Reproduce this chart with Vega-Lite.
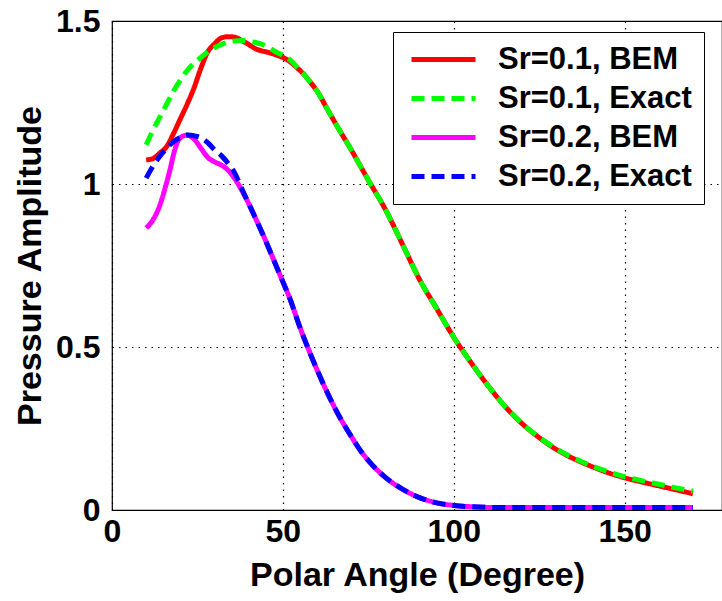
{
  "$schema": "https://vega.github.io/schema/vega-lite/v6.json",
  "autosize": {"type": "none"},
  "padding": {"left": 112, "top": 21, "right": 0, "bottom": 91},
  "width": 610,
  "height": 489,
  "background": "white",
  "config": {
    "view": {"stroke": "black", "strokeWidth": 1.2},
    "font": "Liberation Sans",
    "axis": {
      "labelFont": "Liberation Sans", "labelFontWeight": "bold", "labelFontSize": 32, "labelColor": "black",
      "titleFont": "Liberation Sans", "titleFontWeight": "bold", "titleFontSize": 34, "titleColor": "black",
      "domain": false, "ticks": false,
      "grid": true, "gridColor": "black", "gridDash": [1.5, 5], "gridWidth": 1.2, "gridOpacity": 1,
      "labelOverlap": false, "labelFlush": false
    },
    "legend": {
      "labelFont": "Liberation Sans", "labelFontWeight": "bold", "labelFontSize": 31, "labelColor": "black", "labelLimit": 400
    }
  },
  "datasets": {
    "curves": [
      {"series": "Sr=0.1, BEM", "angle": 10, "amp": 1.074},
      {"series": "Sr=0.1, BEM", "angle": 12, "amp": 1.078},
      {"series": "Sr=0.1, BEM", "angle": 14, "amp": 1.095},
      {"series": "Sr=0.1, BEM", "angle": 16, "amp": 1.115},
      {"series": "Sr=0.1, BEM", "angle": 18, "amp": 1.155},
      {"series": "Sr=0.1, BEM", "angle": 20, "amp": 1.2},
      {"series": "Sr=0.1, BEM", "angle": 22, "amp": 1.245},
      {"series": "Sr=0.1, BEM", "angle": 24, "amp": 1.295},
      {"series": "Sr=0.1, BEM", "angle": 26, "amp": 1.355},
      {"series": "Sr=0.1, BEM", "angle": 28, "amp": 1.405},
      {"series": "Sr=0.1, BEM", "angle": 30, "amp": 1.43},
      {"series": "Sr=0.1, BEM", "angle": 32, "amp": 1.448},
      {"series": "Sr=0.1, BEM", "angle": 34, "amp": 1.452},
      {"series": "Sr=0.1, BEM", "angle": 36, "amp": 1.45},
      {"series": "Sr=0.1, BEM", "angle": 38, "amp": 1.44},
      {"series": "Sr=0.1, BEM", "angle": 40, "amp": 1.428},
      {"series": "Sr=0.1, BEM", "angle": 42, "amp": 1.415},
      {"series": "Sr=0.1, BEM", "angle": 44, "amp": 1.408},
      {"series": "Sr=0.1, BEM", "angle": 46, "amp": 1.403},
      {"series": "Sr=0.1, BEM", "angle": 48, "amp": 1.396},
      {"series": "Sr=0.1, BEM", "angle": 50, "amp": 1.388},
      {"series": "Sr=0.1, BEM", "angle": 52, "amp": 1.376},
      {"series": "Sr=0.1, BEM", "angle": 54, "amp": 1.358},
      {"series": "Sr=0.1, BEM", "angle": 56, "amp": 1.338},
      {"series": "Sr=0.1, BEM", "angle": 58, "amp": 1.313},
      {"series": "Sr=0.1, BEM", "angle": 60, "amp": 1.285},
      {"series": "Sr=0.1, BEM", "angle": 63, "amp": 1.23},
      {"series": "Sr=0.1, BEM", "angle": 66, "amp": 1.175},
      {"series": "Sr=0.1, BEM", "angle": 70, "amp": 1.105},
      {"series": "Sr=0.1, BEM", "angle": 75, "amp": 1.012},
      {"series": "Sr=0.1, BEM", "angle": 80, "amp": 0.922},
      {"series": "Sr=0.1, BEM", "angle": 85, "amp": 0.815},
      {"series": "Sr=0.1, BEM", "angle": 90, "amp": 0.707},
      {"series": "Sr=0.1, BEM", "angle": 95, "amp": 0.618},
      {"series": "Sr=0.1, BEM", "angle": 100, "amp": 0.53},
      {"series": "Sr=0.1, BEM", "angle": 105, "amp": 0.453},
      {"series": "Sr=0.1, BEM", "angle": 110, "amp": 0.382},
      {"series": "Sr=0.1, BEM", "angle": 115, "amp": 0.318},
      {"series": "Sr=0.1, BEM", "angle": 120, "amp": 0.265},
      {"series": "Sr=0.1, BEM", "angle": 125, "amp": 0.222},
      {"series": "Sr=0.1, BEM", "angle": 130, "amp": 0.186},
      {"series": "Sr=0.1, BEM", "angle": 135, "amp": 0.158},
      {"series": "Sr=0.1, BEM", "angle": 140, "amp": 0.135},
      {"series": "Sr=0.1, BEM", "angle": 145, "amp": 0.115},
      {"series": "Sr=0.1, BEM", "angle": 150, "amp": 0.099},
      {"series": "Sr=0.1, BEM", "angle": 155, "amp": 0.086},
      {"series": "Sr=0.1, BEM", "angle": 160, "amp": 0.074},
      {"series": "Sr=0.1, BEM", "angle": 165, "amp": 0.062},
      {"series": "Sr=0.1, BEM", "angle": 170, "amp": 0.05},

      {"series": "Sr=0.1, Exact", "angle": 10, "amp": 1.12},
      {"series": "Sr=0.1, Exact", "angle": 12, "amp": 1.165},
      {"series": "Sr=0.1, Exact", "angle": 14, "amp": 1.205},
      {"series": "Sr=0.1, Exact", "angle": 16, "amp": 1.245},
      {"series": "Sr=0.1, Exact", "angle": 18, "amp": 1.285},
      {"series": "Sr=0.1, Exact", "angle": 20, "amp": 1.318},
      {"series": "Sr=0.1, Exact", "angle": 22, "amp": 1.348},
      {"series": "Sr=0.1, Exact", "angle": 24, "amp": 1.37},
      {"series": "Sr=0.1, Exact", "angle": 26, "amp": 1.388},
      {"series": "Sr=0.1, Exact", "angle": 28, "amp": 1.405},
      {"series": "Sr=0.1, Exact", "angle": 30, "amp": 1.418},
      {"series": "Sr=0.1, Exact", "angle": 32, "amp": 1.428},
      {"series": "Sr=0.1, Exact", "angle": 34, "amp": 1.435},
      {"series": "Sr=0.1, Exact", "angle": 36, "amp": 1.439},
      {"series": "Sr=0.1, Exact", "angle": 38, "amp": 1.44},
      {"series": "Sr=0.1, Exact", "angle": 40, "amp": 1.438},
      {"series": "Sr=0.1, Exact", "angle": 42, "amp": 1.434},
      {"series": "Sr=0.1, Exact", "angle": 44, "amp": 1.428},
      {"series": "Sr=0.1, Exact", "angle": 46, "amp": 1.418},
      {"series": "Sr=0.1, Exact", "angle": 48, "amp": 1.405},
      {"series": "Sr=0.1, Exact", "angle": 50, "amp": 1.395},
      {"series": "Sr=0.1, Exact", "angle": 52, "amp": 1.382},
      {"series": "Sr=0.1, Exact", "angle": 54, "amp": 1.36},
      {"series": "Sr=0.1, Exact", "angle": 56, "amp": 1.338},
      {"series": "Sr=0.1, Exact", "angle": 58, "amp": 1.313},
      {"series": "Sr=0.1, Exact", "angle": 60, "amp": 1.285},
      {"series": "Sr=0.1, Exact", "angle": 63, "amp": 1.23},
      {"series": "Sr=0.1, Exact", "angle": 66, "amp": 1.175},
      {"series": "Sr=0.1, Exact", "angle": 70, "amp": 1.105},
      {"series": "Sr=0.1, Exact", "angle": 75, "amp": 1.012},
      {"series": "Sr=0.1, Exact", "angle": 80, "amp": 0.922},
      {"series": "Sr=0.1, Exact", "angle": 85, "amp": 0.815},
      {"series": "Sr=0.1, Exact", "angle": 90, "amp": 0.707},
      {"series": "Sr=0.1, Exact", "angle": 95, "amp": 0.618},
      {"series": "Sr=0.1, Exact", "angle": 100, "amp": 0.53},
      {"series": "Sr=0.1, Exact", "angle": 105, "amp": 0.453},
      {"series": "Sr=0.1, Exact", "angle": 110, "amp": 0.382},
      {"series": "Sr=0.1, Exact", "angle": 115, "amp": 0.318},
      {"series": "Sr=0.1, Exact", "angle": 120, "amp": 0.266},
      {"series": "Sr=0.1, Exact", "angle": 125, "amp": 0.223},
      {"series": "Sr=0.1, Exact", "angle": 130, "amp": 0.188},
      {"series": "Sr=0.1, Exact", "angle": 135, "amp": 0.16},
      {"series": "Sr=0.1, Exact", "angle": 140, "amp": 0.137},
      {"series": "Sr=0.1, Exact", "angle": 145, "amp": 0.118},
      {"series": "Sr=0.1, Exact", "angle": 150, "amp": 0.102},
      {"series": "Sr=0.1, Exact", "angle": 155, "amp": 0.09},
      {"series": "Sr=0.1, Exact", "angle": 160, "amp": 0.079},
      {"series": "Sr=0.1, Exact", "angle": 165, "amp": 0.068},
      {"series": "Sr=0.1, Exact", "angle": 170, "amp": 0.058},

      {"series": "Sr=0.2, BEM", "angle": 10, "amp": 0.865},
      {"series": "Sr=0.2, BEM", "angle": 12, "amp": 0.89},
      {"series": "Sr=0.2, BEM", "angle": 14, "amp": 0.935},
      {"series": "Sr=0.2, BEM", "angle": 16, "amp": 1.005},
      {"series": "Sr=0.2, BEM", "angle": 17, "amp": 1.045},
      {"series": "Sr=0.2, BEM", "angle": 18, "amp": 1.09},
      {"series": "Sr=0.2, BEM", "angle": 19, "amp": 1.125},
      {"series": "Sr=0.2, BEM", "angle": 20, "amp": 1.142},
      {"series": "Sr=0.2, BEM", "angle": 22, "amp": 1.15},
      {"series": "Sr=0.2, BEM", "angle": 24, "amp": 1.138},
      {"series": "Sr=0.2, BEM", "angle": 26, "amp": 1.11},
      {"series": "Sr=0.2, BEM", "angle": 28, "amp": 1.082},
      {"series": "Sr=0.2, BEM", "angle": 30, "amp": 1.068},
      {"series": "Sr=0.2, BEM", "angle": 32, "amp": 1.058},
      {"series": "Sr=0.2, BEM", "angle": 34, "amp": 1.042},
      {"series": "Sr=0.2, BEM", "angle": 36, "amp": 1.015},
      {"series": "Sr=0.2, BEM", "angle": 38, "amp": 0.98},
      {"series": "Sr=0.2, BEM", "angle": 40, "amp": 0.94},
      {"series": "Sr=0.2, BEM", "angle": 42, "amp": 0.895},
      {"series": "Sr=0.2, BEM", "angle": 45, "amp": 0.825},
      {"series": "Sr=0.2, BEM", "angle": 48, "amp": 0.75},
      {"series": "Sr=0.2, BEM", "angle": 50, "amp": 0.7},
      {"series": "Sr=0.2, BEM", "angle": 52, "amp": 0.65},
      {"series": "Sr=0.2, BEM", "angle": 55, "amp": 0.56},
      {"series": "Sr=0.2, BEM", "angle": 58, "amp": 0.48},
      {"series": "Sr=0.2, BEM", "angle": 60, "amp": 0.43},
      {"series": "Sr=0.2, BEM", "angle": 63, "amp": 0.36},
      {"series": "Sr=0.2, BEM", "angle": 66, "amp": 0.297},
      {"series": "Sr=0.2, BEM", "angle": 70, "amp": 0.226},
      {"series": "Sr=0.2, BEM", "angle": 73, "amp": 0.178},
      {"series": "Sr=0.2, BEM", "angle": 76, "amp": 0.14},
      {"series": "Sr=0.2, BEM", "angle": 80, "amp": 0.1},
      {"series": "Sr=0.2, BEM", "angle": 85, "amp": 0.064},
      {"series": "Sr=0.2, BEM", "angle": 90, "amp": 0.038},
      {"series": "Sr=0.2, BEM", "angle": 95, "amp": 0.022},
      {"series": "Sr=0.2, BEM", "angle": 100, "amp": 0.014},
      {"series": "Sr=0.2, BEM", "angle": 105, "amp": 0.01},
      {"series": "Sr=0.2, BEM", "angle": 110, "amp": 0.008},
      {"series": "Sr=0.2, BEM", "angle": 140, "amp": 0.008},
      {"series": "Sr=0.2, BEM", "angle": 170, "amp": 0.008},

      {"series": "Sr=0.2, Exact", "angle": 10, "amp": 1.018},
      {"series": "Sr=0.2, Exact", "angle": 12, "amp": 1.055},
      {"series": "Sr=0.2, Exact", "angle": 14, "amp": 1.085},
      {"series": "Sr=0.2, Exact", "angle": 16, "amp": 1.11},
      {"series": "Sr=0.2, Exact", "angle": 18, "amp": 1.13},
      {"series": "Sr=0.2, Exact", "angle": 20, "amp": 1.143},
      {"series": "Sr=0.2, Exact", "angle": 22, "amp": 1.15},
      {"series": "Sr=0.2, Exact", "angle": 24, "amp": 1.148},
      {"series": "Sr=0.2, Exact", "angle": 26, "amp": 1.142},
      {"series": "Sr=0.2, Exact", "angle": 28, "amp": 1.127},
      {"series": "Sr=0.2, Exact", "angle": 30, "amp": 1.105},
      {"series": "Sr=0.2, Exact", "angle": 32, "amp": 1.087},
      {"series": "Sr=0.2, Exact", "angle": 34, "amp": 1.063},
      {"series": "Sr=0.2, Exact", "angle": 36, "amp": 1.032},
      {"series": "Sr=0.2, Exact", "angle": 38, "amp": 0.985},
      {"series": "Sr=0.2, Exact", "angle": 40, "amp": 0.94},
      {"series": "Sr=0.2, Exact", "angle": 42, "amp": 0.895},
      {"series": "Sr=0.2, Exact", "angle": 45, "amp": 0.825},
      {"series": "Sr=0.2, Exact", "angle": 48, "amp": 0.75},
      {"series": "Sr=0.2, Exact", "angle": 50, "amp": 0.7},
      {"series": "Sr=0.2, Exact", "angle": 52, "amp": 0.65},
      {"series": "Sr=0.2, Exact", "angle": 55, "amp": 0.56},
      {"series": "Sr=0.2, Exact", "angle": 58, "amp": 0.48},
      {"series": "Sr=0.2, Exact", "angle": 60, "amp": 0.43},
      {"series": "Sr=0.2, Exact", "angle": 63, "amp": 0.36},
      {"series": "Sr=0.2, Exact", "angle": 66, "amp": 0.297},
      {"series": "Sr=0.2, Exact", "angle": 70, "amp": 0.226},
      {"series": "Sr=0.2, Exact", "angle": 73, "amp": 0.178},
      {"series": "Sr=0.2, Exact", "angle": 76, "amp": 0.14},
      {"series": "Sr=0.2, Exact", "angle": 80, "amp": 0.1},
      {"series": "Sr=0.2, Exact", "angle": 85, "amp": 0.064},
      {"series": "Sr=0.2, Exact", "angle": 90, "amp": 0.038},
      {"series": "Sr=0.2, Exact", "angle": 95, "amp": 0.022},
      {"series": "Sr=0.2, Exact", "angle": 100, "amp": 0.014},
      {"series": "Sr=0.2, Exact", "angle": 105, "amp": 0.01},
      {"series": "Sr=0.2, Exact", "angle": 110, "amp": 0.008},
      {"series": "Sr=0.2, Exact", "angle": 140, "amp": 0.008},
      {"series": "Sr=0.2, Exact", "angle": 170, "amp": 0.008}
    ]
  },
  "data": {"name": "curves"},
  "encoding": {
    "x": {
      "field": "angle", "type": "quantitative",
      "scale": {"domain": [0, 178.5], "nice": false, "zero": false},
      "axis": {"values": [0, 50, 100, 150], "title": "Polar Angle (Degree)", "labelPadding": 6, "titlePadding": 11}
    },
    "y": {
      "field": "amp", "type": "quantitative",
      "scale": {"domain": [0, 1.5], "nice": false},
      "axis": {"values": [0, 0.5, 1, 1.5], "labelExpr": "'' + datum.value", "title": "Pressure Amplitude", "labelPadding": 12, "titlePadding": 8}
    },
    "color": {
      "field": "series", "type": "nominal",
      "scale": {
        "domain": ["Sr=0.1, BEM", "Sr=0.1, Exact", "Sr=0.2, BEM", "Sr=0.2, Exact"],
        "range": ["#ff0000", "#00ff00", "#ff00ff", "#0000ff"]
      },
      "legend": {
        "title": null, "orient": "none", "legendX": 281, "legendY": 11,
        "strokeColor": "black", "fillColor": "white", "padding": 12,
        "symbolType": "M-0.9,0H5.5", "symbolSize": 400, "symbolStrokeWidth": 5,
        "labelOffset": 62, "rowPadding": 7
      }
    },
    "strokeDash": {
      "field": "series", "type": "nominal",
      "scale": {
        "domain": ["Sr=0.1, BEM", "Sr=0.1, Exact", "Sr=0.2, BEM", "Sr=0.2, Exact"],
        "range": [[1, 0], [13, 7], [1, 0], [13, 7]]
      },
      "legend": {
        "title": null, "orient": "none", "legendX": 281, "legendY": 11,
        "strokeColor": "black", "fillColor": "white", "padding": 12,
        "symbolType": "M-0.9,0H5.5", "symbolSize": 400, "symbolStrokeWidth": 5,
        "labelOffset": 62, "rowPadding": 7
      }
    }
  },
  "layer": [
    {"transform": [{"filter": "datum.series == 'Sr=0.1, BEM'"}], "mark": {"type": "line", "strokeWidth": 5, "interpolate": "monotone"}},
    {"transform": [{"filter": "datum.series == 'Sr=0.1, Exact'"}], "mark": {"type": "line", "strokeWidth": 5, "interpolate": "monotone"}},
    {"transform": [{"filter": "datum.series == 'Sr=0.2, BEM'"}], "mark": {"type": "line", "strokeWidth": 5, "interpolate": "monotone"}},
    {"transform": [{"filter": "datum.series == 'Sr=0.2, Exact'"}], "mark": {"type": "line", "strokeWidth": 5, "interpolate": "monotone"}}
  ]
}
